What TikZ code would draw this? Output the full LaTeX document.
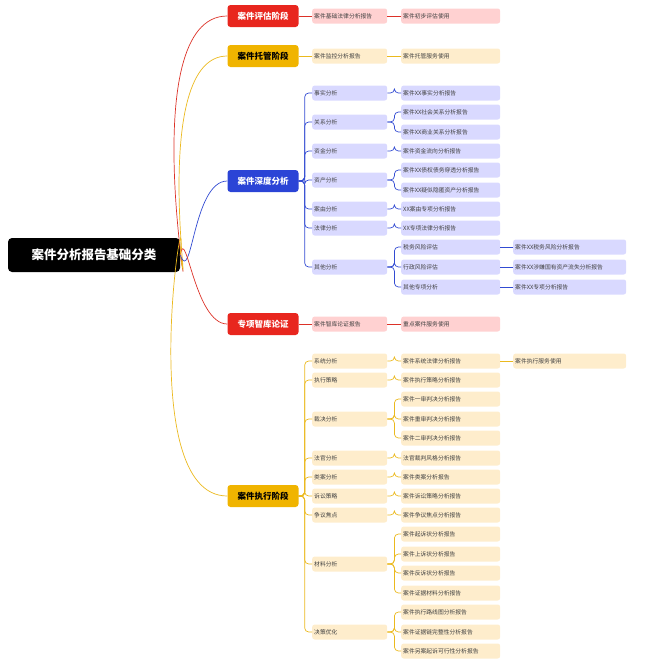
\documentclass[tikz,border=0pt]{standalone}
\usepackage{fontspec}
\setmainfont{Noto Sans CJK SC}
\begin{document}
\begin{tikzpicture}[x=1pt,y=-1pt,
  lone/.style={rounded corners=3pt,minimum width=71pt,minimum height=22pt,font=\fontsize{8.5}{9}\selectfont\bfseries,inner sep=0pt},
  ltwo/.style={rounded corners=2.5pt,minimum width=75pt,minimum height=15pt,font=\fontsize{5.8}{6}\selectfont,text=black!75,inner sep=2pt,anchor=west,text width=71pt,align=left},
  lthr/.style={ltwo,minimum width=99pt,text width=95pt},
  lfour/.style={ltwo,minimum width=113pt,text width=109pt},
  R/.style={fill=red!18!white},Y/.style={fill=yellow!30!orange!18!white},B/.style={fill=blue!15!white},
  cR/.style={draw={rgb,255:red,220;green,50;blue,40},line width=0.7pt},
  cY/.style={draw={rgb,255:red,235;green,185;blue,30},line width=0.7pt},
  cB/.style={draw={rgb,255:red,50;green,75;blue,210},line width=0.7pt},
  br/.style={rounded corners=4pt}]
\useasboundingbox (0,0) rectangle (652,665);
\definecolor{cr}{RGB}{232,38,30}\definecolor{cy}{RGB}{240,180,0}\definecolor{cb}{RGB}{43,68,214}
\node[fill=black,text=white,rounded corners=4pt,minimum width=172pt,minimum height=34pt,font=\fontsize{12.5}{13}\selectfont\bfseries] (root) at (94,255) {案件分析报告基础分类};
\node[lone,fill=cr,text=white] (a) at (263,16) {案件评估阶段};
\node[lone,fill=cy,text=black] (b) at (263,56) {案件托管阶段};
\node[lone,fill=cb,text=white] (c) at (263,181) {案件深度分析};
\node[lone,fill=cr,text=white] (d) at (263,324) {专项智库论证};
\node[lone,fill=cy,text=black] (e) at (263,496) {案件执行阶段};
\draw[cR] (root.east) to[out=-80,in=180] (a.west);
\draw[cY] (root.east) to[out=-80,in=180] (b.west);
\draw[cB] (root.east) to[out=-70,in=180] (c.west);
\draw[cR] (root.east) to[out=80,in=180] (d.west);
\draw[cY] (root.east) to[out=85,in=180] (e.west);
% A
\node[ltwo,R] (a1) at (312,16) {案件基础法律分析报告};
\node[lthr,R] (a2) at (401,16) {案件初步评估使用};
\draw[cR] (a.east)--(a1.west) (a1.east)--(a2.west);
\node[ltwo,Y] (b1) at (312,56) {案件监控分析报告};
\node[lthr,Y] (b2) at (401,56) {案件托管服务使用};
\draw[cY] (b.east)--(b1.west) (b1.east)--(b2.west);
\node[ltwo,R] (d1) at (312,324) {案件智库论证报告};
\node[lthr,R] (d2) at (401,324) {重点案件服务使用};
\draw[cR] (d.east)--(d1.west) (d1.east)--(d2.west);
% C
\foreach \n/\y/\t in {c1/93/事实分析,c2/122/关系分析,c3/151/资金分析,c4/180/资产分析,c5/209/案由分析,c6/228/法律分析,c7/267/其他分析}{
  \node[ltwo,B] (\n) at (312,\y) {\t};
  \draw[cB,br] (c.east) -- ++(6,0) |- (\n.west);}
\foreach \n/\p/\y/\t in {c11/c1/93/案件XX事实分析报告,c21/c2/112/案件XX社会关系分析报告,c22/c2/132/案件XX商业关系分析报告,c31/c3/151/案件资金流向分析报告,c41/c4/170/案件XX债权债务穿透分析报告,c42/c4/190/案件XX疑似隐匿资产分析报告,c51/c5/209/XX案由专项分析报告,c61/c6/228/XX专项法律分析报告,c71/c7/247/税务风险评估,c72/c7/267/行政风险评估,c73/c7/287/其他专项分析}{
  \node[lthr,B] (\n) at (401,\y) {\t};
  \draw[cB,br] (\p.east) -- ++(7,0) |- (\n.west);}
\foreach \n/\p/\y/\t in {c711/c71/247/案件XX税务风险分析报告,c721/c72/267/案件XX涉嫌国有资产流失分析报告,c731/c73/287/案件XX专项分析报告}{
  \node[lfour,B] (\n) at (513,\y) {\t};
  \draw[cB] (\p.east) -- (\n.west);}
% E
\foreach \n/\y/\t in {e1/361/系统分析,e2/380/执行策略,e3/419/裁决分析,e4/458/法官分析,e5/477/类案分析,e6/496/诉讼策略,e7/515/争议焦点,e8/564/材料分析,e9/632/决策优化}{
  \node[ltwo,Y] (\n) at (312,\y) {\t};
  \draw[cY,br] (e.east) -- ++(6,0) |- (\n.west);}
\foreach \n/\p/\y/\t in {e11/e1/361/案件系统法律分析报告,e21/e2/380/案件执行策略分析报告,e31/e3/399/案件一审判决分析报告,e32/e3/419/案件重审判决分析报告,e33/e3/438/案件二审判决分析报告,e41/e4/458/法官裁判风格分析报告,e51/e5/477/案件类案分析报告,e61/e6/496/案件诉讼策略分析报告,e71/e7/515/案件争议焦点分析报告,e81/e8/534/案件起诉状分析报告,e82/e8/554/案件上诉状分析报告,e83/e8/573/案件反诉状分析报告,e84/e8/593/案件证据材料分析报告,e91/e9/612/案件执行路线图分析报告,e92/e9/632/案件证据链完整性分析报告,e93/e9/651/案件另案起诉可行性分析报告}{
  \node[lthr,Y] (\n) at (401,\y) {\t};
  \draw[cY,br] (\p.east) -- ++(7,0) |- (\n.west);}
\node[lfour,Y] (e111) at (513,361) {案件执行服务使用};
\draw[cY] (e11.east) -- (e111.west);
\end{tikzpicture}
\end{document}
